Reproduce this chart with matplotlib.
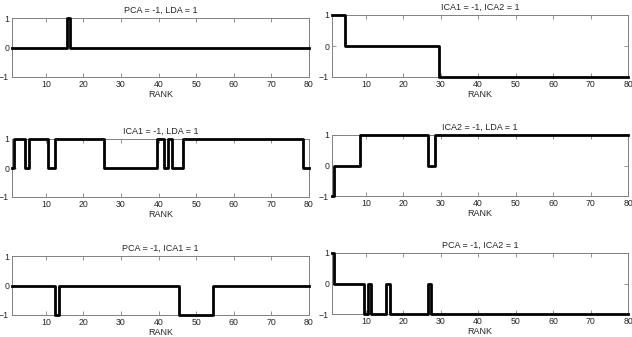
import numpy as np
import matplotlib
matplotlib.use("Agg")
import matplotlib.pyplot as plt

plt.rcParams['font.family'] = ['Liberation Sans', 'DejaVu Sans']

rank = np.arange(1, 81)

# sign agreement per rank, 80 values each
pca_lda = [0, 0, 0, 0, 0, 0, 0, 0, 0, 0, 0, 0, 0, 0, 0, 1, 0, 0, 0, 0,
           0, 0, 0, 0, 0, 0, 0, 0, 0, 0, 0, 0, 0, 0, 0, 0, 0, 0, 0, 0,
           0, 0, 0, 0, 0, 0, 0, 0, 0, 0, 0, 0, 0, 0, 0, 0, 0, 0, 0, 0,
           0, 0, 0, 0, 0, 0, 0, 0, 0, 0, 0, 0, 0, 0, 0, 0, 0, 0, 0, 0]
ica1_ica2 = [1, 1, 1, 1, 0, 0, 0, 0, 0, 0, 0, 0, 0, 0, 0, 0, 0, 0, 0, 0,
             0, 0, 0, 0, 0, 0, 0, 0, 0, -1, -1, -1, -1, -1, -1, -1, -1, -1, -1, -1,
             -1, -1, -1, -1, -1, -1, -1, -1, -1, -1, -1, -1, -1, -1, -1, -1, -1, -1, -1, -1,
             -1, -1, -1, -1, -1, -1, -1, -1, -1, -1, -1, -1, -1, -1, -1, -1, -1, -1, -1, -1]
ica1_lda = [0, 1, 1, 1, 0, 1, 1, 1, 1, 1, 0, 0, 1, 1, 1, 1, 1, 1, 1, 1,
            1, 1, 1, 1, 1, 0, 0, 0, 0, 0, 0, 0, 0, 0, 0, 0, 0, 0, 0, 1,
            1, 0, 1, 0, 0, 0, 1, 1, 1, 1, 1, 1, 1, 1, 1, 1, 1, 1, 1, 1,
            1, 1, 1, 1, 1, 1, 1, 1, 1, 1, 1, 1, 1, 1, 1, 1, 1, 1, 0, 0]
ica2_lda = [-1, 0, 0, 0, 0, 0, 0, 0, 1, 1, 1, 1, 1, 1, 1, 1, 1, 1, 1, 1,
            1, 1, 1, 1, 1, 1, 0, 0, 1, 1, 1, 1, 1, 1, 1, 1, 1, 1, 1, 1,
            1, 1, 1, 1, 1, 1, 1, 1, 1, 1, 1, 1, 1, 1, 1, 1, 1, 1, 1, 1,
            1, 1, 1, 1, 1, 1, 1, 1, 1, 1, 1, 1, 1, 1, 1, 1, 1, 1, 1, 1]
pca_ica1 = [0, 0, 0, 0, 0, 0, 0, 0, 0, 0, 0, 0, -1, 0, 0, 0, 0, 0, 0, 0,
            0, 0, 0, 0, 0, 0, 0, 0, 0, 0, 0, 0, 0, 0, 0, 0, 0, 0, 0, 0,
            0, 0, 0, 0, 0, -1, -1, -1, -1, -1, -1, -1, -1, -1, 0, 0, 0, 0, 0, 0,
            0, 0, 0, 0, 0, 0, 0, 0, 0, 0, 0, 0, 0, 0, 0, 0, 0, 0, 0, 0]
pca_ica2 = [1, 0, 0, 0, 0, 0, 0, 0, 0, -1, 0, -1, -1, -1, -1, 0, -1, -1, -1, -1,
            -1, -1, -1, -1, -1, -1, 0, -1, -1, -1, -1, -1, -1, -1, -1, -1, -1, -1, -1, -1,
            -1, -1, -1, -1, -1, -1, -1, -1, -1, -1, -1, -1, -1, -1, -1, -1, -1, -1, -1, -1,
            -1, -1, -1, -1, -1, -1, -1, -1, -1, -1, -1, -1, -1, -1, -1, -1, -1, -1, -1, -1]

panels = [
    ("PCA = -1, LDA = 1", pca_lda, [12, 18, 309, 77]),
    ("ICA1 = -1, ICA2 = 1", ica1_ica2, [332, 15, 628, 77]),
    ("ICA1 = -1, LDA = 1", ica1_lda, [12, 139, 309, 197]),
    ("ICA2 = -1, LDA = 1", ica2_lda, [332, 135, 628, 196]),
    ("PCA = -1, ICA1 = 1", pca_ica1, [12, 256, 309, 315]),
    ("PCA = -1, ICA2 = 1", pca_ica2, [332, 253, 628, 314]),
]

W, H = 632, 337
fig = plt.figure(figsize=(W / 100, H / 100), dpi=100)
fc = '#808080'

for title, vals, (x0, y0, x1, y1) in panels:
    ax = fig.add_axes([x0 / W, 1 - y1 / H, (x1 - x0) / W, (y1 - y0) / H])
    ax.plot(rank, vals, color='black', lw=2.0, drawstyle='steps-mid',
            clip_on=False, zorder=3)
    ax.set_xlim(1, 80)
    ax.set_ylim(-1, 1)
    ax.set_xticks(range(10, 81, 10))
    ax.set_yticks([-1, 0, 1])
    ax.tick_params(direction='in', length=3, width=0.6, color=fc, labelsize=6.3,
                   top=True, right=True, pad=2, labelcolor='#262626')
    for s in ax.spines.values():
        s.set_color(fc)
        s.set_linewidth(0.7)
    ax.set_title(title, fontsize=6.5, pad=4, color='#262626')
    ax.set_xlabel('RANK', fontsize=6.5, labelpad=1, color='#262626')

fig.savefig('out.png', dpi=100)
